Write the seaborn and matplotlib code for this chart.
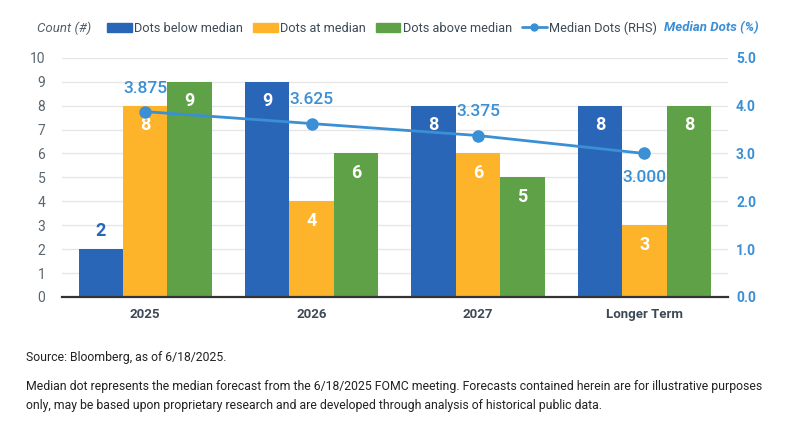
import matplotlib
matplotlib.use("Agg")
import matplotlib.pyplot as plt
import numpy as np
import pandas as pd
import seaborn as sns
from matplotlib.patches import Patch
from matplotlib.lines import Line2D

# data
periods = ["2025", "2026", "2027", "Longer Term"]
below_median = [2, 9, 8, 8]
at_median = [8, 4, 6, 3]
above_median = [9, 6, 5, 8]
median_dots = [3.875, 3.625, 3.375, 3.000]
groups = ["Dots below median", "Dots at median", "Dots above median"]
colors = ["#2a66b8", "#fdb42b", "#5fa146"]
line_color = "#3b8fd4"

df = pd.DataFrame({
    "Period": periods * 3,
    "Count": below_median + at_median + above_median,
    "Group": [g for g in groups for _ in periods],
})

sns.set_theme(style="white")
plt.rcParams["font.family"] = ["Roboto", "DejaVu Sans"]

fig = plt.figure(figsize=(7.85, 4.38), dpi=100)
ax = fig.add_axes([0.079, 0.322, 0.848, 0.546])

sns.barplot(data=df, x="Period", y="Count", hue="Group", palette=colors,
            saturation=1, width=0.8, ax=ax, legend=False, zorder=2,
            edgecolor="none", linewidth=0)

ax.set_ylim(0, 10)
ax.set_yticks(range(0, 11))
ax.yaxis.grid(True, color="#e6e6e6", linewidth=1, zorder=0)
ax.set_axisbelow(True)
ax.set_xlabel("")
ax.set_ylabel("")
for s in ["top", "right", "left"]:
    ax.spines[s].set_visible(False)
ax.spines["bottom"].set_color("#333333")
ax.spines["bottom"].set_linewidth(1.6)
ax.tick_params(axis="y", length=0, labelsize=10, labelcolor="#5a6670", pad=12)
ax.tick_params(axis="x", length=0, labelsize=9.5, labelcolor="#3d4a56", pad=8)
for t in ax.get_xticklabels():
    t.set_fontweight("bold")

# value labels on bars
for cont in ax.containers:
    for bar in cont:
        h = bar.get_height()
        xc = bar.get_x() + bar.get_width() / 2
        if h >= 3:
            ax.annotate(f"{int(h)}", (xc, h), xytext=(0, -14), textcoords="offset points",
                        ha="center", va="center", color="white", fontsize=13, fontweight="bold")
        else:
            ax.annotate(f"{int(h)}", (xc, h), xytext=(0, 13), textcoords="offset points",
                        ha="center", va="center", color=bar.get_facecolor(), fontsize=13,
                        fontweight="bold")

# median dots on right axis
ax2 = ax.twinx()
xpos = np.arange(len(periods))
sns.lineplot(x=xpos, y=median_dots, ax=ax2, color=line_color, linewidth=2,
             marker="o", markersize=9, markeredgewidth=0, zorder=3)
ax2.set_ylim(0, 5)
ax2.set_yticks(range(0, 6))
ax2.set_yticklabels([f"{v:.1f}" for v in range(0, 6)])
ax2.tick_params(axis="y", length=0, labelsize=10, labelcolor=line_color, pad=6)
for t in ax2.get_yticklabels():
    t.set_fontweight("bold")
for s in ax2.spines.values():
    s.set_visible(False)
ax2.grid(False)
ax2.set_ylabel("")
ax.set_xlim(-0.5, len(periods) - 0.5)

for i, v in enumerate(median_dots):
    dy = -17 if i == len(median_dots) - 1 else 17
    ax2.annotate(f"{v:.3f}", (xpos[i], v), xytext=(0, dy), textcoords="offset points",
                 ha="center", va="center", color=line_color, fontsize=12.5, fontweight="medium")

# header
fig.text(0.047, 0.936, "Count (#)", style="italic", color="#555f68", fontsize=9.5,
         ha="left", va="center")
fig.text(0.966, 0.938, "Median Dots (%)", style="italic", fontweight="bold", color=line_color,
         fontsize=9.5, ha="right", va="center")
handles = [Patch(color=c) for c in colors]
handles.append(Line2D([0], [0], color=line_color, lw=2, marker="o", markersize=5))
fig.legend(handles, groups + ["Median Dots (RHS)"], loc="center", bbox_to_anchor=(0.487, 0.936),
           ncol=4, frameon=False, fontsize=9.2, handlelength=1.9, handleheight=0.75,
           handletextpad=0.2, columnspacing=0.8, labelcolor="#3d4a56")

# footnotes
fig.text(0.033, 0.183, "Source: Bloomberg, as of 6/18/2025.", fontsize=8.8, color="#222222",
         ha="left", va="center")
fig.text(0.033, 0.097,
         "Median dot represents the median forecast from the 6/18/2025 FOMC meeting. "
         "Forecasts contained herein are for illustrative purposes\n"
         "only, may be based upon proprietary research and are developed through analysis "
         "of historical public data.",
         fontsize=8.8, color="#222222", ha="left", va="center", linespacing=1.6)

fig.savefig("out.png", dpi=100)
